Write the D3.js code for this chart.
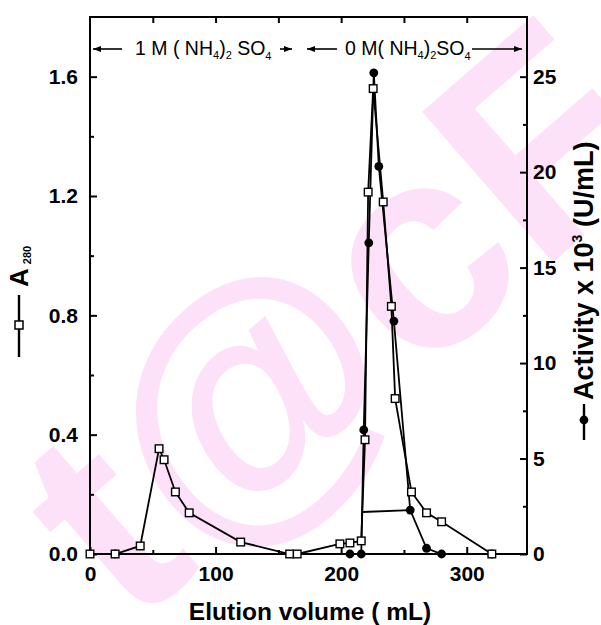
<!DOCTYPE html>
<html>
<head>
<meta charset="utf-8">
<script src="https://cdn.jsdelivr.net/npm/d3@7"></script>
<style>
body { margin: 0; background: #fff; }
svg { display: block; }
text { font-family: "Liberation Sans", Arial, sans-serif; }
</style>
</head>
<body>
<svg id="chart" width="601" height="625"></svg>
<script>
// A280 (open squares)
const volA = [0, 20, 40, 55, 59, 68, 79, 120, 159, 165, 199, 207, 216, 219, 221.5, 225.5, 233.5, 240, 243, 256, 268, 280, 320];
const a280 = [0, 0, 0.027, 0.353, 0.316, 0.208, 0.138, 0.04, 0, 0, 0.034, 0.037, 0.044, 0.383, 1.213, 1.56, 1.18, 0.83, 0.521, 0.208, 0.138, 0.108, 0];
// activity x 10^3 U/mL (filled circles)
const volAct = [0, 20, 207, 216, 218, 222, 226, 230, 242, 255, 268, 280, 320];
const activity = [0, 0, 0, 0, 6.5, 16.3, 25.2, 20.3, 12.2, 2.3, 0.3, 0, 0];
// stray horizontal segment in the original
const strayVol = [217, 255];
const strayAct = [2.2, 2.3];

const xTicks = [0, 100, 200, 300];
const leftTicks = [0, 0.4, 0.8, 1.2, 1.6];
const rightTicks = [0, 5, 10, 15, 20, 25];

const svg = d3.select("#chart");
const mLeft = 90, mRight = 527, mTop = 17, mBottom = 554;

const x = d3.scaleLinear().domain([0, 348]).range([mLeft, mRight]);
const yA = d3.scaleLinear().domain([0, 1.8]).range([mBottom, mTop]);
const yAct = d3.scaleLinear().domain([0, 28.125]).range([mBottom, mTop]);

// watermark
svg.append("text")
  .attr("transform", "translate(335,318) rotate(-41)")
  .attr("text-anchor", "middle")
  .attr("dominant-baseline", "central")
  .attr("font-size", 290)
  .attr("font-weight", "bold")
  .attr("fill", "#fce1f8")
  .text("t@cF");

// frame
svg.append("rect")
  .attr("x", mLeft).attr("y", mTop)
  .attr("width", mRight - mLeft).attr("height", mBottom - mTop)
  .attr("fill", "none").attr("stroke", "#000").attr("stroke-width", 2);

function styleAxis(g) {
  g.select(".domain").remove();
  g.selectAll("line").attr("stroke", "#000").attr("stroke-width", 2);
  g.selectAll("text").attr("font-size", 21).attr("font-weight", "bold").attr("fill", "#000")
    .attr("font-family", "'Liberation Sans', Arial, sans-serif");
}

svg.append("g").attr("transform", `translate(0,${mBottom})`)
  .call(d3.axisBottom(x).tickValues(xTicks).tickFormat(d3.format("d")).tickSize(-7).tickPadding(12))
  .call(styleAxis);
svg.append("g").attr("transform", `translate(0,${mBottom})`)
  .call(d3.axisBottom(x).tickValues([50, 150, 250]).tickFormat("").tickSize(-4))
  .call(styleAxis);
svg.append("g").attr("transform", `translate(0,${mTop})`)
  .call(d3.axisTop(x).tickValues([50, 100, 150, 200, 250, 300]).tickFormat("").tickSize(-6))
  .call(styleAxis);

svg.append("g").attr("transform", `translate(${mLeft},0)`)
  .call(d3.axisLeft(yA).tickValues(leftTicks).tickFormat(d3.format(".1f")).tickSize(-7).tickPadding(12))
  .call(styleAxis);
svg.append("g").attr("transform", `translate(${mLeft},0)`)
  .call(d3.axisLeft(yA).tickValues([0.2, 0.6, 1.0, 1.4]).tickFormat("").tickSize(-4))
  .call(styleAxis);

svg.append("g").attr("transform", `translate(${mRight},0)`)
  .call(d3.axisRight(yAct).tickValues(rightTicks).tickFormat(d3.format("d")).tickSize(-7).tickPadding(6))
  .call(styleAxis);
svg.append("g").attr("transform", `translate(${mRight},0)`)
  .call(d3.axisRight(yAct).tickValues([2.5, 7.5, 12.5, 17.5, 22.5]).tickFormat("").tickSize(-4))
  .call(styleAxis);

// series
const lineA = d3.line().x(d => x(d[0])).y(d => yA(d[1]));
const lineAct = d3.line().x(d => x(d[0])).y(d => yAct(d[1]));
const ptsA = volA.map((v, i) => [v, a280[i]]);
const ptsAct = volAct.map((v, i) => [v, activity[i]]);

svg.append("path").attr("d", lineAct(ptsAct))
  .attr("fill", "none").attr("stroke", "#000").attr("stroke-width", 1.8);
svg.append("path").attr("d", lineAct(strayVol.map((v, i) => [v, strayAct[i]])))
  .attr("fill", "none").attr("stroke", "#000").attr("stroke-width", 1.8);
svg.append("path").attr("d", lineA(ptsA))
  .attr("fill", "none").attr("stroke", "#000").attr("stroke-width", 1.8);

svg.append("g").selectAll("circle").data(ptsAct.filter(d => d[0] > 0)).enter().append("circle")
  .attr("cx", d => x(d[0])).attr("cy", d => yAct(d[1])).attr("r", 4.4).attr("fill", "#000");
svg.append("g").selectAll("rect").data(ptsA).enter().append("rect")
  .attr("x", d => x(d[0]) - 3.8).attr("y", d => yA(d[1]) - 3.8)
  .attr("width", 7.6).attr("height", 7.6)
  .attr("fill", "#fff").attr("stroke", "#000").attr("stroke-width", 1.4);

// axis titles
svg.append("text").attr("x", 310).attr("y", 620)
  .attr("text-anchor", "middle").attr("font-size", 24.5).attr("font-weight", "bold")
  .text("Elution volume ( mL)");

// left title: legend glyph + A280
const lt = svg.append("g").attr("transform", "translate(28,357) rotate(-90)");
lt.append("line").attr("x1", 0).attr("x2", 62).attr("y1", -9).attr("y2", -9)
  .attr("stroke", "#000").attr("stroke-width", 2.4);
lt.append("rect").attr("x", 28).attr("y", -13).attr("width", 8).attr("height", 8)
  .attr("fill", "#fff").attr("stroke", "#000").attr("stroke-width", 1.5);
const ltText = lt.append("text").attr("x", 70).attr("y", 0)
  .attr("font-size", 26).attr("font-weight", "bold");
ltText.append("tspan").text("A");
ltText.append("tspan").attr("dx", 4).attr("dy", 3).attr("font-size", 11).text("280");

// right title: legend glyph + Activity
const rt = svg.append("g").attr("transform", "translate(593,440) rotate(-90)");
rt.append("line").attr("x1", 0).attr("x2", 36).attr("y1", -9).attr("y2", -9)
  .attr("stroke", "#000").attr("stroke-width", 2.4);
rt.append("circle").attr("cx", 20).attr("cy", -9).attr("r", 4.4).attr("fill", "#000");
const rtText = rt.append("text").attr("x", 40).attr("y", 0)
  .attr("font-size", 27).attr("font-weight", "bold");
rtText.append("tspan").text("Activity x 10");
rtText.append("tspan").attr("dy", -11).attr("font-size", 14).text("3");
rtText.append("tspan").attr("dy", 11).text(" (U/mL)");

// salt gradient annotation
const annY = 49;
function arrow(x1, x2, headAt) {
  svg.append("line").attr("x1", x1).attr("x2", x2).attr("y1", annY).attr("y2", annY)
    .attr("stroke", "#000").attr("stroke-width", 1.6);
  const dir = headAt === x1 ? 1 : -1;
  svg.append("path")
    .attr("d", `M${headAt},${annY}L${headAt + dir * 8},${annY - 3}L${headAt + dir * 8},${annY + 3}Z`)
    .attr("fill", "#000");
}
function saltLabel(xPos, conc, gap) {
  const t = svg.append("text").attr("x", xPos).attr("y", 55).attr("font-size", 19.5);
  t.append("tspan").text(conc + " M" + gap + "( NH");
  t.append("tspan").attr("dy", 4).attr("font-size", 11).text("4");
  t.append("tspan").attr("dy", -4).text(")");
  t.append("tspan").attr("dy", 4).attr("font-size", 11).text("2");
  t.append("tspan").attr("dy", -4).text(gap + "SO");
  t.append("tspan").attr("dy", 5).attr("font-size", 11).text("4");
  return t;
}
arrow(93, 122, 93);
saltLabel(135, "1", " ");
arrow(280, 292, 292);
arrow(307, 337, 307);
saltLabel(345, "0", "");
arrow(472, 522, 522);
</script>
</body>
</html>
